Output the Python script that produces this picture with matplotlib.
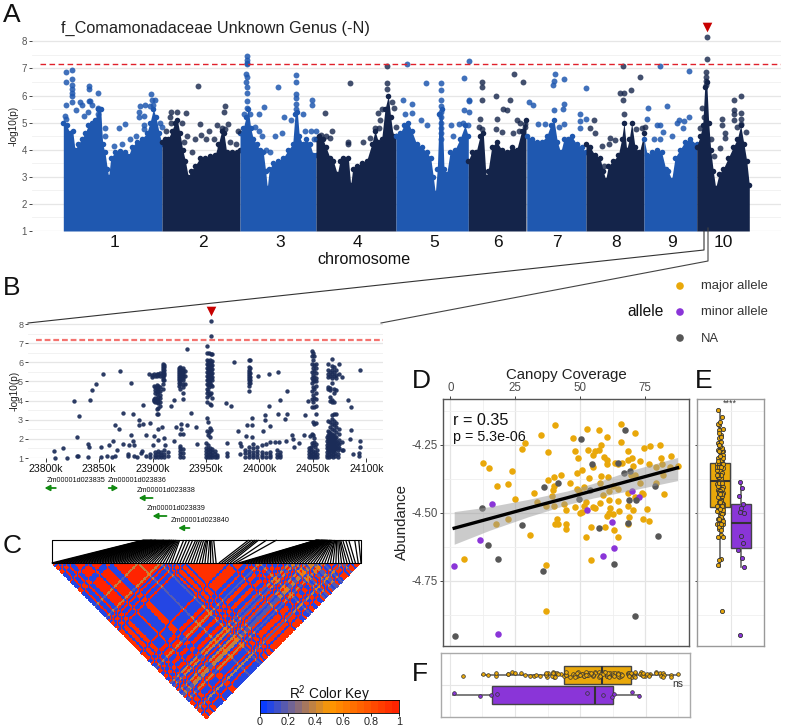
import numpy as np
import matplotlib
matplotlib.use("Agg")
import matplotlib.pyplot as plt
from matplotlib.colors import LinearSegmentedColormap
from matplotlib.collections import LineCollection
from matplotlib.transforms import blended_transform_factory

plt.rcParams['font.family'] = ['Liberation Sans', 'DejaVu Sans']
plt.rcParams['mathtext.default'] = 'regular'

W, H = 786, 727
BLUE = '#1f58b0'
NAVY = '#14244a'
ORANGE = '#e9a80a'
PURPLE = '#8a35d8'
GREY = '#575757'

# panel A, manhattan plot, x is position along the concatenated genome
threshold = 7.18
chrom_labels = ['1', '2', '3', '4', '5', '6', '7', '8', '9', '10']
chrom_ticks = [114, 203, 280, 357, 434, 497.5, 557, 616.5, 672, 723]
env_x = [
    [63.3, 66.7, 70, 72.7, 75, 78.3, 81.7, 85, 88.3, 91.7, 95, 98.3, 100.7, 102.7, 105, 107.3, 108.7, 110.7, 115, 120,
     125, 128.3, 131.7, 136.7, 141.7, 146.7, 150, 153.3, 156, 159.3, 162],
    [162, 165, 168.3, 171.7, 175, 177.3, 180, 182.7, 185.3, 188.3, 190.7, 195, 200, 205, 210, 215, 218.3, 221.7, 224,
     226.7, 231.7, 236.7, 240],
    [240, 243.3, 246, 248.3, 250.7, 253.3, 256.7, 260, 263.3, 265.7, 267.3, 269.3, 273.3, 278.3, 283.3, 288.3, 292.7,
     295, 297.3, 299.3, 302.7, 306, 310, 313.3, 316],
    [316, 319.3, 322.7, 326, 330, 333.3, 337.3, 340, 343.3, 348.3, 350.7, 352.7, 356.7, 361.7, 366.7, 371.7, 375,
     378.3, 381.7, 385, 388.3, 390.7, 393.3, 396],
    [396, 400, 404, 408.3, 411.7, 416.7, 421.7, 426.7, 430.7, 433.3, 435.3, 437.3, 439.3, 442, 444, 446.7, 450, 455,
     460, 465, 468.3],
    [468.3, 471.7, 476, 480, 483.3, 486, 488, 491.7, 496.7, 501.7, 506.7, 511.7, 516.7, 521.7, 526],
    [526.7, 531.7, 536.7, 541.7, 546.7, 550.7, 554, 557.3, 560.7, 564, 567.7, 571.7, 576.7, 581.7, 586],
    [586, 590, 595, 600, 603.3, 605.7, 608.3, 613.3, 618.3, 621.7, 624, 626.7, 629.3, 631.7, 635, 639.3, 644],
    [644, 647.3, 651.7, 656.7, 661.7, 665.7, 668.3, 671.7, 675, 680, 685, 690, 696.7],
    [696.7, 700, 702.7, 704.7, 706.7, 708.7, 710.7, 713.3, 715.7, 719, 723.3, 728.3, 733.3, 737.3, 740.7, 744, 746.7,
     749.3],
]
env_y = [
    [5.0, 4.9, 4.6, 4.7, 4.0, 4.2, 4.4, 4.6, 4.9, 5.0, 5.1, 5.5, 5.5, 4.2, 3.9, 3.3, 3.0, 3.7, 3.9, 3.95,
     3.9, 3.75, 4.1, 4.3, 4.4, 4.6, 5.0, 5.5, 5.2, 4.6, 4.2],
    [4.3, 4.4, 4.4, 4.7, 5.0, 5.1, 4.6, 4.0, 3.6, 3.0, 3.2, 3.4, 3.7, 3.7, 3.75, 3.8, 4.2, 4.7, 4.6, 3.9, 3.9, 3.9, 4.0],
    [4.6, 4.8, 5.2, 5.5, 4.8, 4.4, 4.2, 4.0, 3.9, 3.2, 2.6, 3.3, 3.5, 3.6, 3.7, 4.0, 4.2, 5.3, 5.4, 4.5, 4.2, 4.4, 4.2,
     3.8, 3.8],
    [4.4, 4.5, 4.4, 4.1, 3.7, 3.6, 3.1, 3.6, 3.7, 3.7, 2.7, 3.3, 3.4, 3.5, 3.6, 4.2, 4.7, 4.3, 4.4, 5.5, 6.0, 5.2, 4.5,
     4.5],
    [4.5, 4.6, 4.9, 5.0, 4.7, 4.2, 4.1, 3.9, 3.7, 3.0, 2.4, 3.3, 5.3, 5.5, 3.3, 3.1, 3.9, 4.0, 4.4, 4.9, 4.5],
    [3.6, 3.9, 3.9, 4.5, 4.6, 3.0, 3.2, 4.1, 4.3, 4.0, 3.9, 4.1, 4.0, 4.7, 5.1],
    [4.5, 4.4, 4.3, 4.3, 4.5, 4.9, 5.1, 4.3, 3.9, 4.4, 4.4, 4.5, 4.2, 4.1, 3.9],
    [4.2, 4.1, 3.8, 3.7, 3.2, 2.9, 3.4, 3.6, 3.8, 4.4, 5.0, 4.0, 4.4, 5.0, 4.1, 3.9, 4.6],
    [4.4, 3.8, 3.9, 4.0, 3.9, 3.3, 3.2, 2.9, 3.7, 4.0, 4.3, 4.4, 4.2],
    [4.1, 4.5, 4.9, 6.3, 6.5, 5.0, 4.0, 3.2, 2.6, 3.1, 3.3, 3.7, 4.1, 4.4, 4.9, 4.2, 3.6, 2.7],
]
hits_blue_x = [66, 72, 66, 72, 72, 72, 72, 72, 66, 72, 76, 80, 82, 84, 65, 66, 89, 89, 89, 90, 92, 88, 98, 98, 98,
               105, 105, 119, 125, 114, 122, 130, 136, 140, 145, 139, 139, 144, 151, 152, 155, 153, 150, 144, 144,
               160, 162,
               247, 247, 247, 247, 246, 247, 246, 247, 247, 247, 247, 244, 250, 264, 259, 255, 259, 262, 278, 284,
               291, 296, 296, 296, 296, 296, 296, 303, 312, 312, 282, 275, 266, 270, 305, 311, 316, 314,
               407, 469, 426, 441, 441, 441, 441, 441, 441, 441, 441, 441, 441, 464, 469, 469, 464, 469, 421, 427,
               451, 459, 463, 468, 453, 412, 403, 412, 405,
               555, 554, 553, 564, 586, 529, 533, 564, 554, 563, 580, 580, 586, 538, 545, 564, 559, 580,
               660, 689, 648, 667, 647, 657, 660, 679, 684, 689, 677, 683, 663, 672, 654, 660]
hits_blue_y = [6.85, 6.95, 6.5, 6.6, 6.4, 6.25, 6.1, 6.0, 5.65, 5.75, 5.45, 5.75, 5.65, 5.25, 5.25, 5.15, 6.35, 6.25,
               5.8, 5.8, 5.65, 5.4, 6.1, 5.55, 5.3, 4.8, 4.5, 4.8, 4.95, 4.15, 4.2, 4.4, 4.5, 5.6, 5.65, 5.4, 5.2,
               5.25, 6.05, 5.85, 5.85, 5.65, 5.6, 4.9, 4.75, 5.0, 4.85,
               7.45, 7.3, 7.2, 7.15, 6.8, 6.7, 6.5, 6.3, 6.1, 5.8, 5.55, 5.3, 5.3, 5.57, 5.3, 4.85, 4.7, 4.5, 6.32,
               5.22, 5.1, 6.75, 6.5, 6.05, 5.9, 5.7, 5.5, 5.3, 5.85, 5.65, 4.6, 4.5, 4.0, 3.9, 4.7, 4.7, 4.7, 4.4,
               7.15, 7.27, 6.45, 6.45, 6.2, 5.85, 5.6, 5.4, 5.2, 5.0, 4.8, 4.6, 4.4, 6.65, 5.85, 5.8, 5.45, 5.4, 5.1,
               4.9, 4.9, 4.95, 5.0, 4.9, 4.5, 5.7, 5.85, 5.35, 5.3,
               6.8, 6.55, 6.4, 6.6, 6.28, 5.75, 5.65, 5.67, 5.45, 5.5, 5.3, 5.05, 5.15, 4.95, 4.95, 4.95, 4.85, 4.8,
               7.1, 6.9, 5.55, 5.6, 5.15, 4.9, 4.9, 5.1, 5.05, 5.2, 5.0, 4.8, 4.65, 4.5, 4.4, 4.4]
hits_navy_x = [198, 225, 224, 171, 177, 170, 171, 186, 182, 200, 166, 172, 187, 184, 201, 209, 206, 217, 222, 228,
               225, 238, 192, 214, 220, 230, 236, 195,
               325, 350, 387, 387, 387, 382, 380, 378, 392, 394, 396, 332, 326, 348, 348, 330, 321, 363, 375, 370,
               379, 390,
               514, 523, 481.6, 481.6, 481.6, 496, 510, 503, 507, 480, 497, 517, 520, 525, 479, 482, 496, 502, 513,
               519, 525,
               623, 640, 631, 620, 624, 623, 624, 594, 590, 595, 602, 610, 615, 609, 636, 642, 645, 604,
               707, 707, 706, 706, 706, 706, 702, 741, 734, 734, 734, 734, 722, 722, 725, 725, 711, 714, 720, 741,
               741, 741, 746, 737, 704, 700]
hits_navy_y = [6.35, 5.6, 5.4, 5.4, 5.4, 5.2, 5.0, 5.35, 5.0, 4.95, 4.7, 4.45, 4.5, 4.3, 4.55, 4.7, 4.4, 4.9, 4.8,
               4.95, 4.75, 4.7, 3.9, 4.4, 4.1, 4.3, 4.2, 4.4,
               5.37, 6.47, 7.1, 6.45, 6.25, 5.5, 5.1, 5.37, 5.75, 5.55, 4.85, 4.7, 4.5, 4.3, 4.2, 4.45, 4.55, 4.3,
               4.8, 4.45, 4.8, 4.6,
               6.8, 6.5, 6.5, 6.3, 5.85, 6.0, 5.85, 5.5, 5.45, 5.15, 5.15, 5.1, 5.0, 4.95, 4.85, 4.75, 4.75, 4.65,
               4.6, 4.7, 4.85,
               7.08, 6.7, 6.2, 6.1, 6.1, 5.85, 5.3, 5.1, 4.8, 4.6, 4.15, 4.45, 4.35, 4.2, 4.75, 4.8, 4.85, 3.4,
               8.15, 7.35, 6.85, 6.7, 6.55, 6.4, 5.55, 6.0, 5.85, 5.45, 5.3, 5.1, 5.15, 4.9, 4.6, 4.45, 4.4, 3.75,
               4.05, 5.35, 5.15, 4.95, 4.65, 4.85, 5.2, 4.8]

# panel B, zoom on chromosome 10, position in kb
b_ticks = [23800, 23850, 23900, 23950, 24000, 24050, 24100]
b_tick_labels = ['23800k', '23850k', '23900k', '23950k', '24000k', '24050k', '24100k']
b_x_single = [23808, 23816, 23826.5, 23829, 23831.5, 23840, 23841, 23841.5, 23843, 23847, 23854, 23852, 23859, 23863,
              23865, 23869, 23869.5, 23867, 23872, 23872, 23879.5, 23880, 23882, 23882, 23878, 23882.6, 23891, 23887,
              23887, 23891, 23893.5, 23898, 23890, 23901, 23905, 23909, 23905, 23900, 23911, 23912,
              23932.5, 23976.5, 23999, 24009, 24017, 24094, 24026, 24019, 24009, 24045, 24083, 24086, 23969, 23973,
              23920, 23917.5, 23928, 23936, 23993, 24005, 24005.5, 24017.6, 24024, 24026, 24043, 24010, 24003,
              23988.6, 23992.6, 23980, 23987, 23993, 23921.6, 23927, 23927, 23932.5, 23941, 23925.6, 23928, 23920,
              23942, 24086, 24085, 24094, 24094, 24093.4, 24093.4, 24087, 24078.5, 24047, 24042, 24037, 24030, 24031,
              24032, 24025, 24018, 24014.5, 23982, 23983, 23970, 23970, 23970, 23982,
              23809, 23820, 23829, 23830, 23840, 23852, 23857, 23862, 23865, 23877, 23877, 23883, 23885, 23889, 23894]
b_y_single = [1.37, 1.5, 4.0, 2.1, 3.2, 1.75, 1.55, 4.03, 4.55, 4.88, 5.4, 1.55, 1.7, 1.9, 2.7, 2.5, 5.55, 1.4, 3.35,
              1.75, 4.9, 2.2, 3.3, 1.9, 1.7, 1.7, 3.75, 3.0, 2.7, 2.8, 2.2, 2.85, 1.35, 2.15, 2.5, 2.6, 1.95, 1.7,
              2.05, 1.7,
              6.7, 6.0, 5.27, 5.4, 5.5, 5.6, 4.5, 4.05, 3.73, 4.0, 4.05, 3.68, 3.85, 3.7, 4.05, 3.7, 4.1, 3.35, 3.1,
              3.25, 3.0, 3.3, 3.05, 3.3, 3.27, 2.65, 2.4, 2.75, 2.7, 2.4, 2.15, 2.1, 2.6, 2.8, 2.5, 2.75, 2.6, 2.25,
              2.25, 1.9, 1.75, 2.45, 2.0, 1.9, 1.55, 1.25, 1.1, 1.2, 1.4, 2.15, 2.2, 1.8, 2.2, 2.0, 1.6, 1.9, 1.85,
              1.85, 1.8, 1.65, 1.8, 1.25, 1.1, 1.2,
              1.02, 1.02, 1.12, 1.12, 1.05, 1.05, 1.08, 1.05, 1.08, 1.22, 1.08, 1.08, 1.05, 1.26, 1.12]
b_col_k = [23897, 23899, 23901, 23902, 23904, 23905, 23907, 23910, 23911, 23925, 23926, 23928, 23930,
           23951, 23952, 23953, 23954, 23955, 23956, 23990, 23991, 24049, 24050, 24051, 24053,
           24064, 24066, 24068, 24070, 24072, 24074, 24077,
           23898, 23902, 23905, 23908, 23911, 23914, 23926, 23928, 23950, 23952, 23954, 23956, 23958, 23960,
           23986, 23990, 23994, 23998, 24002, 24006, 24010, 24016, 24019, 24046, 24048, 24050, 24052, 24054,
           24063, 24065, 24067, 24069, 24071, 24073]
b_col_y = [
    [5.4], [5.35, 5.25], [5.4, 4.75, 4.1, 4.05, 4.0], [5.3, 4.7, 4.55, 4.4, 4.15, 4.05, 3.95],
    [5.4, 5.3, 4.8, 4.65, 4.5, 4.35, 4.1, 4.0, 3.9, 3.55, 3.3], [5.4, 5.35, 4.75, 4.6, 4.45, 4.2, 4.05, 3.85, 3.6, 3.3],
    [5.45, 5.3, 4.7, 4.5, 4.3, 4.15, 3.95, 3.7], [5.9, 5.8, 5.7, 5.6, 5.5, 5.4, 5.3, 5.2, 5.1, 4.85, 4.6],
    [5.85, 5.75, 5.6, 5.45, 5.35, 5.05], [5.7, 5.6, 5.5, 5.4, 5.3, 5.2, 5.1, 4.9, 4.75],
    [5.75, 5.65, 5.55, 5.45, 5.35, 5.25, 5.15, 5.0, 4.85, 4.6], [5.7, 5.6, 5.5, 5.4, 5.3, 5.2, 5.05, 4.85, 4.7, 4.4],
    [5.55, 5.3, 4.85],
    [6.85, 6.5, 6.1, 5.9, 5.7, 5.5, 5.3, 5.1, 4.85, 4.6, 4.4, 4.2, 3.95, 3.1, 2.4],
    [6.05, 5.85, 5.65, 5.45, 5.25, 5.05, 4.8, 4.5, 2.9, 2.2],
    [6.5, 5.95, 5.75, 5.55, 5.35, 5.15, 4.95, 4.7, 4.3, 2.35],
    [6.1, 5.9, 5.7, 5.5, 5.3, 5.1, 4.9, 4.35, 3.8, 2.55, 2.1],
    [8.15, 7.35, 6.45, 6.0, 5.8, 5.6, 5.4, 5.2, 4.8, 4.4, 3.75, 2.45],
    [6.45, 6.05, 5.85, 5.65, 5.45, 5.25, 5.05, 4.75, 4.15],
    [6.1, 5.75, 5.6, 5.5, 5.4, 5.3, 5.2, 5.1, 4.9, 4.75, 4.5], [6.1, 5.7, 5.45, 5.25, 5.05, 4.9],
    [6.6, 6.35, 5.9, 5.5, 5.2, 4.9, 4.5, 4.1, 3.65, 2.25, 1.8], [6.5, 6.1, 5.7, 5.35, 5.05, 4.7, 4.3, 3.9, 2.9, 2.2, 1.7],
    [6.35, 5.85, 5.55, 5.25, 5.0, 4.6, 4.15, 3.65, 2.8, 2.05, 1.85], [5.9, 5.7, 5.45, 5.2, 5.0, 4.75, 4.4, 4.1, 3.7, 3.3, 2.85, 1.75],
    [5.9, 5.6, 5.4, 5.25, 4.7, 4.6, 2.95, 2.4, 2.2, 2.0, 1.8, 1.6, 1.4],
    [5.5, 5.3, 4.65, 4.55, 4.2, 4.0, 2.9, 2.6, 2.3, 2.1, 1.9, 1.7, 1.5],
    [6.15, 5.8, 5.6, 5.4, 5.2, 4.9, 4.05, 3.9, 3.25, 3.05, 2.8, 2.5, 2.25, 2.05, 1.85, 1.65, 1.45],
    [5.75, 5.5, 5.3, 4.6, 4.4, 3.9, 3.3, 2.95, 2.7, 2.45, 2.2, 2.0, 1.8, 1.6, 1.4],
    [5.6, 5.35, 5.2, 4.55, 3.3, 2.85, 2.6, 2.35, 2.1, 1.9, 1.7, 1.5], [5.9, 5.4, 2.5, 2.25, 1.95, 1.75, 1.5], [5.25, 1.85, 1.4],
    [1.05, 1.2], [1.05, 1.15, 1.3], [1.05, 1.2, 1.35], [1.05, 1.15, 1.3], [1.05, 1.2, 1.4], [1.1, 1.3],
    [1.05, 1.2, 1.35, 1.5, 1.65], [1.05, 1.25, 1.45], [1.05, 1.2, 1.35, 1.5, 1.8], [1.05, 1.15, 1.3, 1.45, 1.7],
    [1.05, 1.2, 1.35, 1.5], [1.05, 1.15, 1.3, 1.45], [1.05, 1.2, 1.35], [1.05, 1.15],
    [1.05, 1.25, 1.4], [1.05, 1.2, 1.35, 1.6], [1.05, 1.15, 1.3, 1.5, 1.75], [1.05, 1.2, 1.35, 1.55], [1.05, 1.15, 1.3, 1.7],
    [1.05, 1.25, 1.75], [1.05, 1.15, 1.3, 1.85], [1.05, 1.2, 1.4], [1.05, 1.15, 1.3],
    [1.05, 1.2, 1.35, 1.5], [1.05, 1.15, 1.3, 1.45, 1.6], [1.05, 1.2, 1.35], [1.05, 1.15, 1.3, 1.55], [1.05, 1.2, 1.4],
    [1.05, 1.15, 1.3, 1.5, 1.7, 1.9, 2.1], [1.05, 1.2, 1.35, 1.55, 1.75, 1.95, 2.15, 2.35], [1.1, 1.25, 1.4, 1.6, 1.8, 2.0, 2.2],
    [1.05, 1.2, 1.35, 1.55, 1.75, 1.95, 2.15], [1.1, 1.25, 1.45, 1.65, 1.85, 2.05], [1.05, 1.2, 1.4, 1.6, 1.8],
]
gene_names = ['Zm00001d023835', 'Zm00001d023836', 'Zm00001d023838', 'Zm00001d023839', 'Zm00001d023840']
gene_tail = [23809.5, 23859, 23900, 23913, 23934.5]
gene_head = [23799, 23868, 23887, 23900, 23924]

# panel C, LD heat map: one haplotype class per SNP and R2 between classes
snp_class = ("bbabbabb" "aaaaabaaaaa" "bbb" "aaaaaaaaacaaaaaaa" "cabab" "babbab" "bbbbbbbbbbbbbbabbbbb"
             "aabaacabbaabbaa" "bcacbabcaccbacab" "bbabcbbabbb")
class_names = ['a', 'b', 'c']
class_r2 = [[0.95, 0.08, 0.36],
            [0.08, 0.90, 0.15],
            [0.36, 0.15, 0.60]]
snp_kb = [92, 93, 94, 95, 96, 97, 98, 99, 100, 100, 101, 102, 103, 104, 104, 105, 106, 107, 108, 109, 110, 111, 112, 112,
          113, 114, 115, 116, 117, 118, 118, 119, 120, 120, 121, 122, 122, 123, 124, 124, 125, 126, 127, 128,
          132, 135, 138, 141, 144, 146, 148, 150, 152, 154, 155, 156, 158, 159, 160, 162,
          197, 200, 203, 205,
          207, 215, 225,
          265, 265, 266, 266, 267, 267, 268, 268, 269, 270, 270, 271, 271, 272, 272, 273, 273, 274, 274, 275, 275, 276,
          276, 277, 278, 278, 279, 279, 280, 280, 281, 282, 283, 283, 284,
          285, 286, 287, 288, 289, 291, 294, 297, 303, 307]
key_ticks = [0, 0.2, 0.4, 0.6, 0.8, 1]
key_labels = ['0', '0.2', '0.4', '0.6', '0.8', '1']

# panels D, E, F
major_x = [40.4, 34.7, 28.7, 27.4, 37.4, 12.7, 14.7, 23.7, 17.8, 22.2, 24.9, 32.2, 33.2, 37.6, 40, 42.6, 39.7, 39.4,
           39.1, 36.8, 39.7, 43.8, 44.4, 41.2, 40.3, 41.3, 44.5, 44.6, 30.6, 22.2, 17.6, 5.1, 36.7, 36.7, 45.9, 47.1,
           47.9, 49, 48.7, 50.5, 53.5, 51.4, 49.6, 48.6, 48.1, 50.5, 49.9, 55.5, 57.6, 61.2, 61.5, 61, 60.4, 62.7,
           64.9, 64.5, 52.7, 57.1, 60.4, 65.6, 71, 65.6, 52.8, 55.6, 57, 57.9, 54.7, 59.2, 60.1, 60.4, 63.2, 64.6,
           65.9, 68.2, 69.7, 68.5, 70.4, 73.1, 74.6, 76.7, 80.6, 80.9, 84.7, 81.5, 84.6, 87.4, 76.3, 79, 55, 58.1,
           60.6, 57.6, 62.7, 64.6, 61, 58.8, 55, 52.1, 51.3, 68.2, 68.8, 70.4, 68.5, 69.4, 71, 72.9, 73.6, 71, 74,
           75.6, 74, 76.4, 82.2, 79.1, 81.7, 54, 52.1, 59.5, 62.9, 64.4, 54.1, 68.5]
major_y = [-4.176, -4.214, -4.244, -4.265, -4.277, -4.316, -4.336, -4.346, -4.401, -4.396, -4.448, -4.429, -4.459,
           -4.380, -4.368, -4.360, -4.402, -4.417, -4.439, -4.474, -4.475, -4.467, -4.490, -4.524, -4.542, -4.542,
           -4.542, -4.559, -4.583, -4.524, -4.542, -4.671, -4.693, -4.860, -4.390, -4.224, -4.272, -4.300, -4.355,
           -4.343, -4.372, -4.404, -4.419, -4.414, -4.478, -4.496, -4.502, -4.483, -4.466, -4.453, -4.484, -4.500,
           -4.511, -4.505, -4.493, -4.456, -4.194, -4.196, -4.221, -4.175, -4.208, -4.240, -4.270, -4.272, -4.270,
           -4.250, -4.288, -4.294, -4.306, -4.321, -4.319, -4.321, -4.316, -4.306, -4.298, -4.272, -4.328, -4.309,
           -4.262, -4.254, -4.252, -4.298, -4.292, -4.322, -4.331, -4.327, -4.321, -4.333, -4.333, -4.365, -4.368,
           -4.390, -4.402, -4.414, -4.419, -4.435, -4.480, -4.459, -4.475, -4.475, -4.515, -4.490, -4.429, -4.361,
           -4.361, -4.392, -4.426, -4.441, -4.433, -4.486, -4.522, -4.529, -4.431, -4.390, -4.361, -4.554, -4.589,
           -4.551, -4.564, -4.588, -4.674, -4.542]
minor_x = [1.5, 11.5, 15.9, 52.7, 62, 62.8, 58.8, 69.7, 72.6, 18.2]
minor_y = [-4.696, -4.602, -4.468, -4.491, -4.535, -4.629, -4.660, -4.421, -4.441, -4.947]
na_x = [1.8, 12.2, 14.5, 18.3, 27.7, 36.2, 41.5, 35.8, 50.4, 54.6, 53.7, 49.6, 57.3, 62.8, 66.7, 69.2, 67.3, 68.6,
        71.5, 68.3, 78.7, 79.7, 71.2, 64.6]
na_y = [-4.952, -4.483, -4.620, -4.669, -4.545, -4.406, -4.390, -4.716, -4.228, -4.321, -4.417, -4.451, -4.557,
        -4.690, -4.353, -4.347, -4.197, -4.453, -4.453, -4.537, -4.403, -4.587, -4.878, -4.319]
fit_x = [1.5, 15, 30, 45, 55, 70, 87.4]
fit_y = [-4.557, -4.522, -4.483, -4.445, -4.419, -4.380, -4.335]
fit_lo = [-4.616, -4.565, -4.515, -4.470, -4.446, -4.417, -4.382]
fit_hi = [-4.496, -4.478, -4.451, -4.420, -4.392, -4.343, -4.297]
box_major_extra = [-4.123, -4.150, -4.165]
box_minor_y = [-4.388, -4.408, -4.440, -4.468, -4.484, -4.497, -4.50, -4.585, -4.612, -4.637, -4.667, -4.698, -4.95]
jitter_e = [-0.05, 0.06, -0.12, 0.1, 0.0, -0.08, 0.14, -0.02, 0.08, -0.15, 0.03, 0.12, -0.06, 0.05, -0.1]
jitter_f = [0.08, -0.06, 0.0, 0.1, -0.1, 0.04, -0.03, 0.12, -0.08, 0.02]
stats_e = [dict(med=-4.382, q1=-4.478, q3=-4.319, whislo=-4.698, whishi=-4.123, fliers=[]),
           dict(med=-4.537, q1=-4.631, q3=-4.469, whislo=-4.698, whishi=-4.388, fliers=[])]
stats_f = [dict(med=55.7, q1=16.2, q3=62.7, whislo=1.1, whishi=72.7, fliers=[]),
           dict(med=58.2, q1=43.9, q3=69.5, whislo=12.2, whishi=87.6, fliers=[])]


fig = plt.figure(figsize=(W / 100, H / 100), dpi=100, facecolor='white')


def add_ax(left, top, right, bottom, **kw):
    return fig.add_axes([left / W, 1 - bottom / H, (right - left) / W, (bottom - top) / H], **kw)


def gwas_axes(ax, size):
    ax.set_facecolor('none')
    for s in ax.spines.values():
        s.set_visible(False)
    ax.set_yticks(range(1, 9))
    ax.set_yticks(np.arange(1.5, 8, 1), minor=True)
    ax.grid(True, which='major', axis='y', color='#e6e6e6', lw=0.9)
    ax.grid(True, which='minor', axis='y', color='#f0f0f0', lw=0.6)
    ax.set_axisbelow(True)
    ax.tick_params(axis='y', which='major', length=2, width=0.7, color='#444444', labelcolor='#555555',
                   labelsize=size, pad=1.5)
    ax.tick_params(axis='y', which='minor', length=0)
    ax.set_ylabel('-log10(p)', fontsize=7.2, color='#222222', labelpad=3)


# A
ax_a = add_ax(32, 41.3 - 0.2 * 27.06, 781, 231)
ax_a.set_xlim(32, 781)
ax_a.set_ylim(1, 8.2)
gwas_axes(ax_a, 7)
for i in range(10):
    c = BLUE if i % 2 == 0 else NAVY
    ax_a.fill_between(env_x[i], 1, env_y[i], color=c, lw=0, zorder=2)
    ax_a.scatter(env_x[i], env_y[i], s=16, color=c, lw=0, zorder=2)
ax_a.scatter(hits_blue_x, hits_blue_y, s=18, color=BLUE, alpha=0.85, lw=0, clip_on=False, zorder=3)
ax_a.scatter(hits_navy_x, hits_navy_y, s=18, color=NAVY, alpha=0.8, lw=0, clip_on=False, zorder=3)
ax_a.plot([40, 781], [threshold, threshold], color='#e0202a', lw=1, dashes=(4, 2.5), zorder=4)
ax_a.set_xticks(chrom_ticks)
ax_a.set_xticklabels(chrom_labels, fontsize=12.5, color='#111111')
ax_a.tick_params(axis='x', length=0, pad=3)
ax_a.yaxis.set_label_coords(-0.0185, 0.54)

# B
ax_b = add_ax(28, 324 - 0.2 * 19.14, 383, 458)
ax_b.set_xlim(23783.5, 24115.5)
ax_b.set_ylim(1, 8.2)
gwas_axes(ax_b, 6.5)
b_x = np.concatenate([b_x_single] + [np.full(len(v), k) for k, v in zip(b_col_k, b_col_y)])
b_y = np.concatenate([b_y_single] + b_col_y)
ax_b.scatter(b_x, b_y, s=10, color='#1b2c58', alpha=0.92, lw=0, clip_on=False, zorder=3)
ax_b.plot([23791, 24115.5], [threshold, threshold], color='#f4736f', lw=1.6, dashes=(2.6, 1.3), zorder=4)
ax_b.set_xticks(b_ticks)
ax_b.set_xticklabels(b_tick_labels, fontsize=7.6, color='#111111')
ax_b.tick_params(axis='x', length=3, width=0.7, pad=1, color='#333333')
ax_b.yaxis.set_label_coords(-0.024, 0.49)

# C, D, E, F and annotations go over the rest
ax_o = add_ax(0, 0, W, H)
ax_o.set_xlim(0, W)
ax_o.set_ylim(H, 0)
ax_o.axis('off')
ax_o.patch.set_alpha(0)

# genes under panel B
gene_tr = blended_transform_factory(ax_b.transData, ax_o.transData)
gene_text_y = [480, 480, 491, 508, 521]
gene_arrow_y = [488, 488, 498, 516, 528]
gene_text_x = [23801, 23858, 23885, 23895, 23917]
for name, tx, ty, tail, head, ay in zip(gene_names, gene_text_x, gene_text_y, gene_tail, gene_head, gene_arrow_y):
    ax_o.text(tx, ty, name, fontsize=5.2, color='#111111', va='center', ha='left', transform=gene_tr, clip_on=False)
    ax_o.annotate('', xy=(head, ay), xytext=(tail, ay), xycoords=gene_tr, textcoords=gene_tr,
                  arrowprops=dict(arrowstyle='-|>,head_width=0.16,head_length=0.3', color='#128a12', lw=1.3,
                                  shrinkA=0, shrinkB=0))

# LD triangle
n = len(snp_class)
idx = np.array([class_names.index(c) for c in snp_class])
r2 = np.array(class_r2)[idx][:, idx]
np.fill_diagonal(r2, 1)
ii, jj = np.meshgrid(np.arange(n + 1), np.arange(n + 1), indexing='ij')
mesh_x = (ii + jj) / 2
mesh_y = (jj - ii) / 2
ld_cmap = LinearSegmentedColormap.from_list('ld', ['#0a3cff', '#ff9a00', '#ff2400'], N=20)
ax_c = add_ax(51.7, 563, 361, 719)
ax_c.set_xlim(0, n)
ax_c.set_ylim(n / 2, 0)
ax_c.axis('off')
mask = np.tril(np.ones((n, n), dtype=bool), -1)
ax_c.pcolormesh(mesh_x, mesh_y, np.ma.array(r2, mask=mask), cmap=ld_cmap, vmin=0, vmax=1, shading='flat',
                edgecolors='none', antialiased=False)
# box above it with a line from every SNP to its genome position
ax_o.plot([51.7, 51.7, 361, 361, 51.7], [563, 540, 540, 563, 563], color='black', lw=0.8)
snp_segments = [[(51.7 + kb, 540), (51.7 + 309.3 * i / (n - 1), 563)] for i, kb in enumerate(snp_kb)]
ax_o.add_collection(LineCollection(snp_segments, colors='black', linewidths=0.9))

# key
ax_key = add_ax(260, 700, 399, 713)
key_vals = np.linspace(0, 1, 21)
ax_key.pcolormesh(key_vals, [0, 1], key_vals[:-1].reshape(1, -1) + 0.025, cmap=ld_cmap, vmin=0, vmax=1)
ax_key.set_yticks([])
ax_key.set_xticks(key_ticks)
ax_key.set_xticklabels(key_labels, fontsize=7.8, color='#222222')
ax_key.tick_params(axis='x', length=2, width=0.6, pad=1)
for s in ax_key.spines.values():
    s.set_linewidth(0.6)
ax_o.text(330, 694, 'R$^2$ Color Key', fontsize=9.8, ha='center', va='center', color='#111111')

# D
y_lim = (-4.99, -4.082)
y_ticks = [-4.25, -4.5, -4.75]
y_minor = [-4.125, -4.375, -4.625, -4.875]
ax_d = add_ax(443, 399, 689, 646)
ax_d.set_xlim(-2.8, 91.8)
ax_d.set_ylim(*y_lim)
ax_d.set_yticks(y_ticks)
ax_d.set_yticklabels(['-4.25', '-4.50', '-4.75'])
ax_d.set_yticks(y_minor, minor=True)
ax_d.set_xticks([0, 25, 50, 75])
ax_d.set_xticks([12.5, 37.5, 62.5, 87.5], minor=True)
ax_d.xaxis.tick_top()
ax_d.xaxis.set_label_position('top')
ax_d.grid(True, which='major', color='#e4e4e4', lw=0.9)
ax_d.grid(True, which='minor', color='#efefef', lw=0.6)
ax_d.set_axisbelow(True)
ax_d.tick_params(which='major', length=2, width=0.7, labelsize=8.3, labelcolor='#4d4d4d', pad=1.5, color='#444444')
ax_d.tick_params(which='minor', length=0)
ax_d.set_xlabel('Canopy Coverage', fontsize=10.8, color='#222222', labelpad=2.5)
ax_d.set_ylabel('Abundance', fontsize=10.8, color='#222222', labelpad=2)
for s in ax_d.spines.values():
    s.set_color('#555555')
    s.set_linewidth(1)
ax_d.scatter(major_x, major_y, s=22, color=ORANGE, lw=0, zorder=2)
ax_d.scatter(minor_x, minor_y, s=22, color=PURPLE, lw=0, zorder=2)
ax_d.scatter(na_x, na_y, s=22, color=GREY, lw=0, zorder=2)
ax_d.fill_between(fit_x, fit_lo, fit_hi, color='#999999', alpha=0.5, lw=0, zorder=3)
ax_d.plot(fit_x, fit_y, color='black', lw=2.4, zorder=4)
ax_d.text(1.2, -4.16, 'r = 0.35', fontsize=11.7, va='center', color='#111111')
ax_d.text(1.2, -4.222, 'p = 5.3e-06', fontsize=10.3, va='center', color='#111111')

# E
ax_e = add_ax(696.7, 399, 763.7, 646)
ax_e.set_xlim(-0.12, 3.07)
ax_e.set_ylim(*y_lim)
ax_e.set_yticks(y_ticks)
ax_e.set_yticks(y_minor, minor=True)
ax_e.set_xticks([1.5])
ax_e.set_xticklabels([])
ax_e.set_yticklabels([])
ax_e.grid(True, which='major', color='#e6e6e6', lw=0.8)
ax_e.grid(True, which='minor', axis='y', color='#f0f0f0', lw=0.6)
ax_e.set_axisbelow(True)
ax_e.tick_params(which='major', length=1.5, width=0.7, color='#444444')
ax_e.tick_params(axis='x', length=0)
ax_e.tick_params(which='minor', length=0)
for s in ax_e.spines.values():
    s.set_color('#999999')
    s.set_linewidth(1)


def style_box(bp, colors):
    for patch, c in zip(bp['boxes'], colors):
        patch.set_facecolor(c)
        patch.set_edgecolor('#444444')
        patch.set_linewidth(1)
    for w in bp['whiskers']:
        w.set_color('#666666')
        w.set_linewidth(1.2)
    for m in bp['medians']:
        m.set_color('#333333')
        m.set_linewidth(1.5)


bp = ax_e.bxp(stats_e, positions=[1, 2], widths=0.94, patch_artist=True, showcaps=False, showfliers=False,
              manage_ticks=False)
style_box(bp, [ORANGE, PURPLE])
e_major = np.array(major_y + box_major_extra)
e_minor = np.array(box_minor_y)
ax_e.scatter(1 + np.resize(jitter_e, len(e_major)), e_major, s=9, color=ORANGE, edgecolors='#333333', lw=0.6, zorder=4)
ax_e.scatter(2 + np.resize(jitter_e, len(e_minor)), e_minor, s=9, color=PURPLE, edgecolors='#333333', lw=0.6, zorder=4)
ax_o.text(730, 403.5, '****', fontsize=6.5, ha='center', va='center', color='#333333', zorder=6)

# F
ax_f = add_ax(441.3, 652.7, 690.3, 716.7)
ax_f.set_xlim(-3.2, 92.1)
ax_f.set_ylim(-0.1, 3.1)
ax_f.set_xticks([0, 25, 50, 75])
ax_f.set_xticks([12.5, 37.5, 62.5, 87.5], minor=True)
ax_f.set_yticks([1.5])
ax_f.set_xticklabels([])
ax_f.set_yticklabels([])
ax_f.grid(True, which='major', color='#e6e6e6', lw=0.8)
ax_f.grid(True, which='minor', axis='x', color='#f0f0f0', lw=0.6)
ax_f.set_axisbelow(True)
ax_f.tick_params(which='both', length=0)
for s in ax_f.spines.values():
    s.set_color('#aaaaaa')
    s.set_linewidth(1)
bp = ax_f.bxp(stats_f, positions=[1, 2], widths=0.88, orientation='horizontal', patch_artist=True, showcaps=False,
              showfliers=False, manage_ticks=False)
style_box(bp, [PURPLE, ORANGE])
ax_f.scatter(major_x, 2 + np.resize(jitter_f, len(major_x)), s=7, color=ORANGE, edgecolors='#333333', lw=0.5, zorder=4)
ax_f.scatter(minor_x, 1 + np.resize(jitter_f, len(minor_x)), s=7, color=PURPLE, edgecolors='#333333', lw=0.5, zorder=4)
ax_f.text(87.5, 1.55, 'ns', fontsize=7.5, ha='center', va='center', color='#333333')

# overlay texts and lines
ax_o.set_zorder(5)
letters = [('A', 3, 15), ('B', 3, 288), ('C', 3, 546), ('D', 412, 381), ('E', 695, 381), ('F', 412, 674)]
for t, x, y in letters:
    ax_o.text(x, y, t, fontsize=19, va='center', ha='left', color='#111111')
ax_o.text(61, 28, 'f_Comamonadaceae Unknown Genus (-N)', fontsize=11.7, va='center', ha='left', color='#222222')
ax_o.text(363.5, 260, 'chromosome', fontsize=11.6, va='center', ha='center', color='#111111')
ax_o.plot([704, 704, 28], [231, 250, 323], color='#333333', lw=0.8)
ax_o.plot([708, 708, 381], [228, 261, 323], color='#444444', lw=0.8)
ax_o.scatter([707, 210.5], [26.5, 310.5], marker='v', s=48, color='#c80000', lw=0, zorder=7)
ax_o.scatter([680, 680, 680], [286, 312, 338], s=30, color=[ORANGE, PURPLE, GREY], lw=0)
for lab, y in zip(['major allele', 'minor allele', 'NA'], [286, 312, 339]):
    ax_o.text(701, y, lab, fontsize=9.4, va='center', color='#333333')
ax_o.text(627, 312, 'allele', fontsize=11.2, va='center', color='#111111')

fig.savefig('out.png', dpi=100)
